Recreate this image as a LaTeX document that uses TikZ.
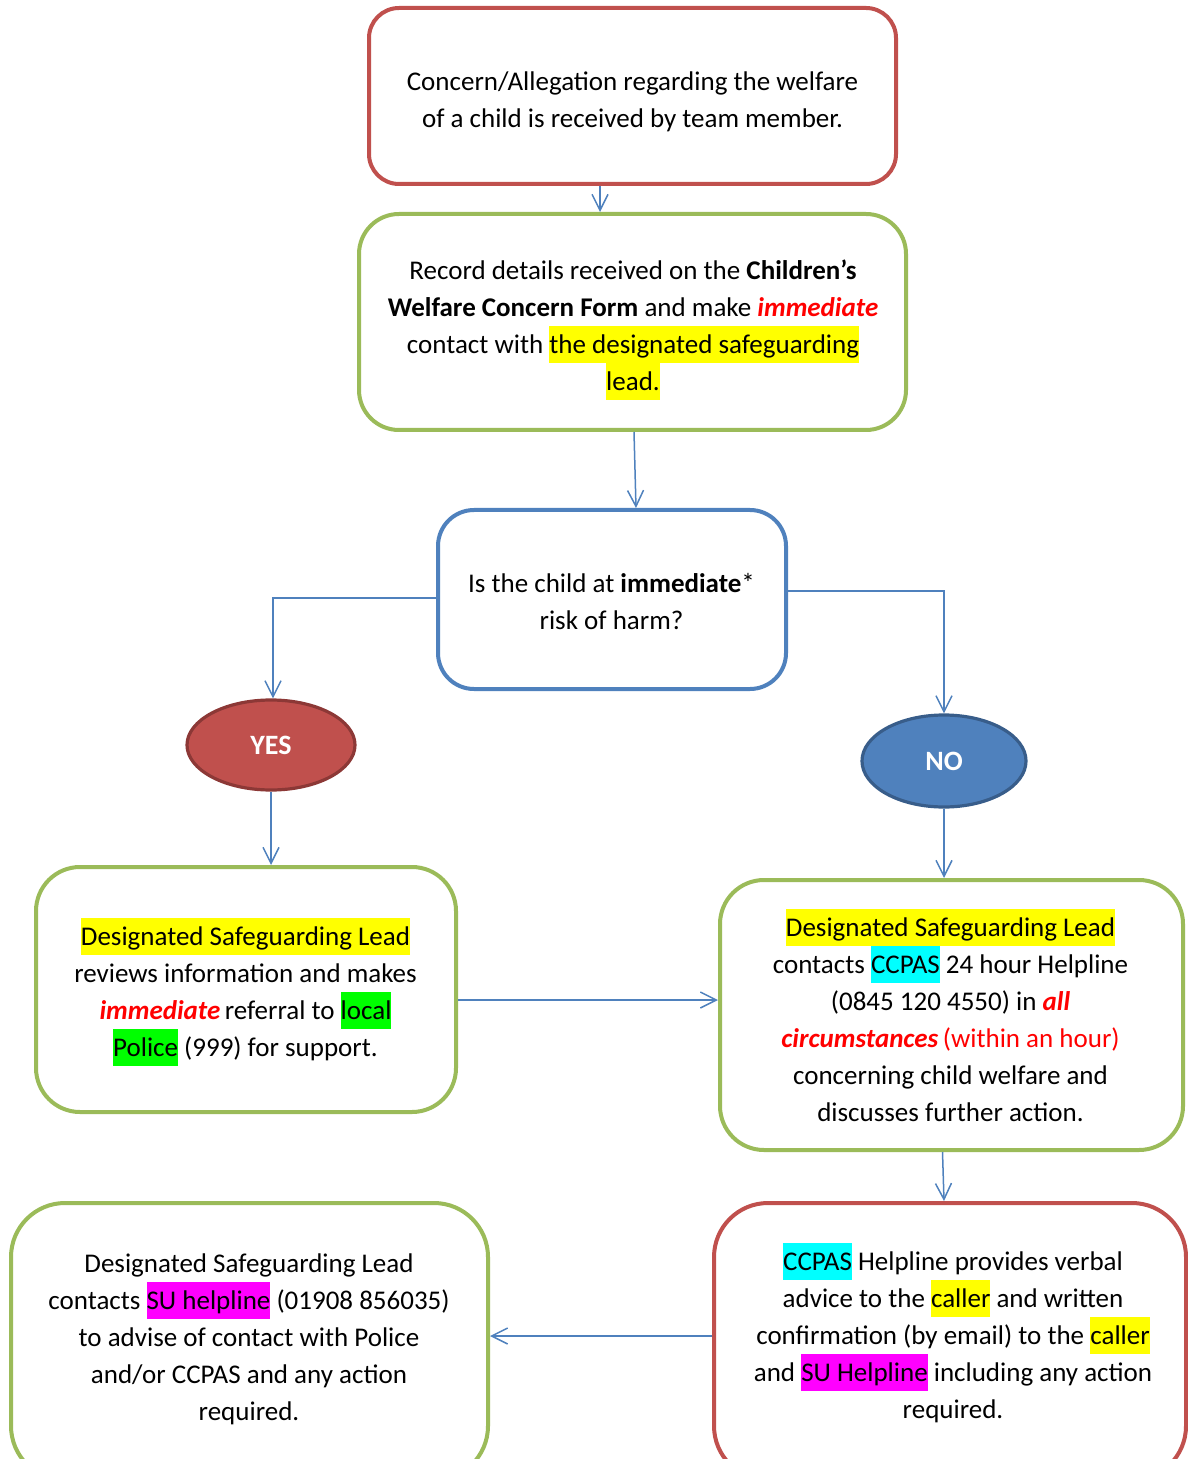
\documentclass[tikz,border=0pt]{standalone}
\usepackage{fontspec}
\setmainfont{Carlito}
\usetikzlibrary{arrows.meta,shapes.geometric,calc}
\definecolor{bred}{HTML}{C0504D}
\definecolor{bgreen}{HTML}{9BBB59}
\definecolor{bblue}{HTML}{4F81BD}
\definecolor{dred}{HTML}{8C3836}
\definecolor{dblue}{HTML}{385D8A}
\definecolor{hy}{HTML}{FFFF00}
\definecolor{hc}{HTML}{00FFFF}
\definecolor{hm}{HTML}{FF00FF}
\definecolor{hg}{HTML}{00FF00}
\definecolor{tred}{HTML}{FF0000}
\newcommand{\hlt}[2]{{\setlength{\fboxsep}{0pt}\colorbox{#1}{\rule[-4.8pt]{0pt}{18.5pt}#2}}}
\newcommand{\rit}[1]{\textcolor{tred}{\textbf{\textit{#1}}}}
\newcommand{\boxfont}{\fontsize{13.5}{18.5}\selectfont\lineskiplimit=-20pt\relax}
\begin{document}
\begin{tikzpicture}[x=0.5pt,y=-0.5pt,
  box/.style={draw,line width=2pt,fill=white,inner sep=0pt},
  txt/.style={align=center,inner sep=0pt,font=\boxfont},
  arr/.style={draw=bblue,line width=0.75pt,-{Straight Barb[length=8pt,width=8pt]}},
  oval/.style={ellipse,line width=1.6pt,text=white,font=\fontsize{14}{16}\selectfont\bfseries,inner sep=0pt}]
\useasboundingbox (0,0) rectangle (1187,1459);
\node[box,draw=bred,rounded corners=15pt,minimum width=263.5pt,minimum height=88pt] (b1) at (632.5,96) {};
\node[txt] (t1) at (632.5,102)
  {Concern/Allegation regarding the welfare\\of a child is received by team member.};
\node[box,draw=bgreen,rounded corners=20pt,minimum width=273.5pt,minimum height=108pt] (b2) at (632.5,322) {};
\node[txt] (t2) at (633,330)
  {Record details received on the \textbf{Children’s}\\\textbf{Welfare Concern Form} and make \rit{immediate}\\contact with \hlt{hy}{the designated safeguarding}\\\hlt{hy}{lead.}};
\node[box,draw=bblue,rounded corners=18pt,minimum width=174pt,minimum height=89.5pt] (b3) at (612,599.5) {};
\node[txt] (t3) at (611.5,602)
  {Is the child at \textbf{immediate}*\\risk of harm?};
\node[oval,fill=bred,draw=dred,minimum width=84pt,minimum height=45pt] (yes) at (271,745) {YES};
\node[oval,fill=bblue,draw=dblue,minimum width=82pt,minimum height=46pt] (no) at (944,761) {NO};
\node[box,draw=bgreen,rounded corners=22pt,minimum width=210pt,minimum height=122.5pt] (b4) at (246,989.5) {};
\node[txt] (t4) at (245.5,992)
  {\hlt{hy}{Designated Safeguarding Lead}\\reviews information and makes\\\rit{immediate}\,referral to \hlt{hg}{local}\\\hlt{hg}{Police} (999) for support.};
\node[box,draw=bgreen,rounded corners=22pt,minimum width=231.5pt,minimum height=135pt] (b5) at (951.5,1015) {};
\node[txt] (t5) at (950.5,1015)
  {\hlt{hy}{Designated Safeguarding Lead}\\contacts \hlt{hc}{CCPAS} 24 hour Helpline\\(0845 120 4550) in \rit{all}\\\rit{circumstances}\,\textcolor{tred}{(within an hour)}\\concerning child welfare and\\discusses further action.};
\node[box,draw=bred,rounded corners=27pt,minimum width=236pt,minimum height=138.5pt] (b6) at (950,1341.5) {};
\node[txt] (t6) at (953,1333)
  {\hlt{hc}{CCPAS} Helpline provides verbal\\advice to the \hlt{hy}{caller} and written\\confirmation (by email) to the \hlt{hy}{caller}\\and \hlt{hm}{SU Helpline} including any action\\required.};
\node[box,draw=bgreen,rounded corners=27pt,minimum width=238.5pt,minimum height=138.5pt] (b7) at (249.5,1341.5) {};
\node[txt] (t7) at (249,1339)
  {Designated Safeguarding Lead\\contacts \hlt{hm}{SU helpline} (01908 856035)\\to advise of contact with Police\\and/or CCPAS and any action\\required.};
\coordinate (h1) at (588,1000);
\coordinate (h2) at (600,1336);
\draw[arr] ($(b1.south)+(-32.5,0)$) -- ($(b2.north)+(-32.5,0)$);
\draw[arr] ($(b2.south)+(1.5,0)$) -- ($(b3.north)+(24,0)$);
\draw[arr] ($(b3.west)+(0,-1.5)$) -| ($(yes.north)+(2,0)$);
\draw[arr] ($(b3.east)+(0,-8.5)$) -| (no.north);
\draw[arr] (yes.south) -- (yes.south |- b4.north);
\draw[arr] (no.south) -- (no.south |- b5.north);
\draw[arr] (h1 -| b4.east) -- (h1 -| b5.west);
\draw[arr] ($(b5.south)+(-9,0)$) -- ($(b6.north)+(-6,0)$);
\draw[arr] (h2 -| b6.west) -- (h2 -| b7.east);
\end{tikzpicture}
\end{document}
